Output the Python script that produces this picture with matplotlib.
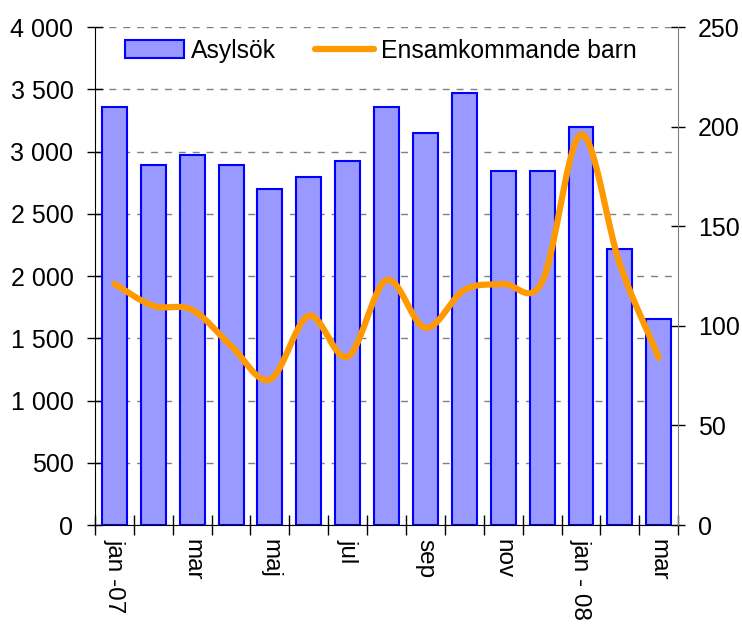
import matplotlib.pyplot as plt
import numpy as np

plt.rcParams['font.family'] = ['Liberation Sans', 'DejaVu Sans']

# Data
months = ['jan -07', 'feb', 'mar', 'apr', 'maj', 'jun', 'jul', 'aug', 'sep',
          'okt', 'nov', 'dec', 'jan - 08', 'feb', 'mar']
asylsok = [3355, 2890, 2970, 2890, 2700, 2795, 2920, 3355, 3150,
           3470, 2845, 2845, 3195, 2220, 1655]
ensamkommande = [121, 110, 108, 90, 73, 105, 84.5, 123, 99,
                 118, 121, 122, 196, 131, 84]


def smooth(x, y, n=20):
    # Catmull-Rom through the points, like Excel's smoothed line
    x = np.asarray(x, float)
    y = np.asarray(y, float)
    px = np.concatenate([[2 * x[0] - x[1]], x, [2 * x[-1] - x[-2]]])
    py = np.concatenate([[2 * y[0] - y[1]], y, [2 * y[-1] - y[-2]]])
    xs, ys = [], []
    t = np.linspace(0, 1, n, endpoint=False)
    for i in range(1, len(px) - 2):
        for p, out in ((px, xs), (py, ys)):
            p0, p1, p2, p3 = p[i - 1], p[i], p[i + 1], p[i + 2]
            out.extend(0.5 * (2 * p1 + (-p0 + p2) * t
                              + (2 * p0 - 5 * p1 + 4 * p2 - p3) * t ** 2
                              + (-p0 + 3 * p1 - 3 * p2 + p3) * t ** 3))
    xs.append(x[-1])
    ys.append(y[-1])
    return xs, ys


fig = plt.figure(figsize=(7.42, 6.28), dpi=100)
ax = fig.add_axes([0.128, 0.164, 0.786, 0.793])
ax2 = ax.twinx()

x = np.arange(len(months))
bars = ax.bar(x, asylsok, width=0.64, color='#9999FF', edgecolor='#0000FF',
              linewidth=1.5, label='Asylsök', zorder=2)

sx, sy = smooth(x, ensamkommande)
line, = ax2.plot(sx, sy, color='#FF9900', linewidth=4.5,
                 solid_capstyle='round', label='Ensamkommande barn')

ax.set_xlim(-0.5, len(months) - 0.5)
ax.set_ylim(0, 4000)
ax2.set_ylim(0, 250)

ax.set_yticks(np.arange(0, 4001, 500))
ax.set_yticklabels([f'{v:,}'.replace(',', ' ') for v in range(0, 4001, 500)])
ax2.set_yticks(np.arange(0, 251, 50))

ax.yaxis.grid(True, color='#808080', linestyle=(0, (5, 5)), linewidth=1)
ax.set_axisbelow(True)

# category boundaries as major ticks, labels on centres
ax.set_xticks(np.arange(-0.5, len(months), 1))
ax.set_xticklabels([])
ax.set_xticks(x, minor=True)
ax.set_xticklabels([m if i % 2 == 0 else '' for i, m in enumerate(months)],
                   minor=True, rotation=270, fontsize=17.5)
ax.tick_params(axis='x', which='major', direction='inout', length=15, width=1)
ax.tick_params(axis='x', which='minor', direction='in', length=6, width=1, pad=10)
ax.tick_params(axis='y', direction='inout', length=11, width=1, labelsize=18, pad=10)
ax2.tick_params(axis='y', direction='inout', length=10, width=1, labelsize=18, pad=9)

for a in (ax, ax2):
    a.spines['top'].set_visible(False)
ax.spines['right'].set_visible(False)
ax2.spines['left'].set_visible(False)
ax2.spines['bottom'].set_visible(False)
ax2.spines['right'].set_color('#808080')

ax.legend([bars, line], ['Asylsök', 'Ensamkommande barn'], loc='center',
          bbox_to_anchor=(0.49, 0.952), ncol=2, frameon=False, fontsize=17.8,
          handlelength=2.4, handleheight=0.75, handletextpad=0.25,
          columnspacing=1.6)

fig.savefig('out.png', dpi=100)
